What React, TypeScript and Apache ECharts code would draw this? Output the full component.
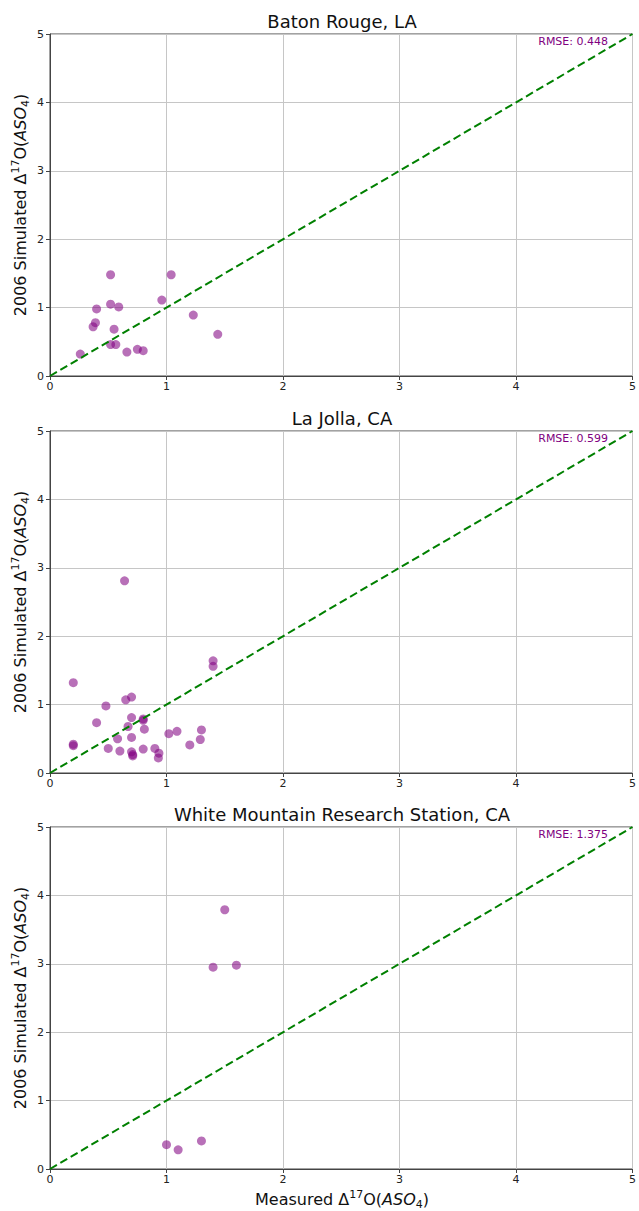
import React, { useEffect, useRef } from "react";
import * as echarts from "echarts";

const titles = ["Baton Rouge, LA", "La Jolla, CA", "White Mountain Research Station, CA"];
const rmseLabels = ["RMSE: 0.448", "RMSE: 0.599", "RMSE: 1.375"];
const tickValues = [0, 1, 2, 3, 4, 5];

const batonRouge: number[][] = [
  [0.26, 0.32], [0.52, 1.48], [1.04, 1.48], [0.52, 1.05], [0.59, 1.01], [0.4, 0.98],
  [0.96, 1.11], [1.23, 0.89], [0.39, 0.78], [0.37, 0.72], [0.55, 0.685], [1.44, 0.61],
  [0.52, 0.46], [0.565, 0.46], [0.66, 0.35], [0.75, 0.39], [0.8, 0.37],
];

const laJolla: number[][] = [
  [0.64, 2.81], [1.4, 1.64], [1.4, 1.56], [0.2, 1.32], [0.7, 1.11], [0.65, 1.07],
  [0.48, 0.98], [0.7, 0.81], [0.8, 0.79], [0.8, 0.77], [0.4, 0.735], [0.67, 0.68],
  [0.81, 0.64], [1.3, 0.63], [1.09, 0.61], [1.02, 0.575], [0.7, 0.52], [0.58, 0.5],
  [1.29, 0.49], [1.2, 0.41], [0.2, 0.42], [0.2, 0.4], [0.5, 0.36], [0.9, 0.36],
  [0.6, 0.32], [0.8, 0.35], [0.7, 0.31], [0.71, 0.27], [0.71, 0.25], [0.935, 0.29],
  [0.93, 0.22],
];

const whiteMountain: number[][] = [
  [1.5, 3.79], [1.4, 2.95], [1.6, 2.98], [1.0, 0.355], [1.1, 0.28], [1.3, 0.41],
];

const oneToOne: number[][] = [[0, 0], [5, 5]];

const panels = [batonRouge, laJolla, whiteMountain];
const gridTops = [34, 431, 827];
const gridH = 342;
const gridLeft = 50;
const gridW = 584;
const FONT = "DejaVu Sans";

export default function App() {
  const ref = useRef<HTMLDivElement>(null);
  useEffect(() => {
    if (!ref.current) return;
    const chart = echarts.init(ref.current, null, { renderer: "svg" });
    const grids = gridTops.map((t) => ({
      left: gridLeft,
      top: t,
      width: gridW,
      height: gridH,
      show: true,
      borderColor: "#444",
      borderWidth: 1,
      backgroundColor: "transparent",
    }));
    const axisCommon = {
      type: "value" as const,
      min: tickValues[0],
      max: tickValues[tickValues.length - 1],
      interval: 1,
      axisLine: { show: true, onZero: false, lineStyle: { color: "#444", width: 1 } },
      axisTick: { show: true, length: 4, lineStyle: { color: "#444" } },
      splitLine: { show: true, lineStyle: { color: "#c6c6c6", width: 1 } },
      axisLabel: { fontFamily: FONT, fontSize: 11, color: "#222", margin: 5 },
    };
    const xAxes = gridTops.map((_, i) => ({ ...axisCommon, gridIndex: i }));
    const yAxes = gridTops.map((_, i) => ({
      ...axisCommon,
      gridIndex: i,
      axisLabel: { ...axisCommon.axisLabel, margin: 6 },
    }));
    const series: any[] = [];
    panels.forEach((d, i) => {
      series.push({
        type: "scatter",
        xAxisIndex: i,
        yAxisIndex: i,
        data: d,
        symbolSize: 9,
        itemStyle: { color: "rgba(128,0,128,0.7)" },
        z: 2,
      });
      series.push({
        type: "line",
        xAxisIndex: i,
        yAxisIndex: i,
        data: oneToOne,
        symbol: "none",
        lineStyle: { color: "#008000", width: 2, type: [8, 4] },
        z: 3,
      });
    });
    const rich = {
      sup: { fontSize: 11, lineHeight: 10, verticalAlign: "top", fontFamily: FONT, fill: "#111" },
      sub: { fontSize: 11, lineHeight: 10, verticalAlign: "bottom", fontFamily: FONT, fill: "#111" },
      it: { fontSize: 16, lineHeight: 21, fontStyle: "italic", fontFamily: FONT, fill: "#111" },
    };
    const graphic: any[] = [];
    gridTops.forEach((t, i) => {
      graphic.push({
        type: "text",
        x: gridLeft + gridW / 2,
        y: t - 13,
        style: {
          text: titles[i],
          fontFamily: FONT,
          fontSize: 18,
          fill: "#111",
          align: "center",
          verticalAlign: "middle",
        },
      });
      graphic.push({
        type: "text",
        x: 608,
        y: t + 7,
        style: {
          text: rmseLabels[i],
          fontFamily: FONT,
          fontSize: 11,
          fill: "#800080",
          align: "right",
          verticalAlign: "middle",
        },
      });
      graphic.push({
        type: "text",
        x: 20,
        y: t + gridH / 2,
        rotation: Math.PI / 2,
        style: {
          text: "2006 Simulated Δ{sup|17}O({it|ASO}{sub|4})",
          rich,
          fontFamily: FONT,
          fontSize: 16,
          lineHeight: 21,
          fill: "#111",
          align: "center",
          verticalAlign: "middle",
        },
      });
    });
    graphic.push({
      type: "text",
      x: gridLeft + gridW / 2,
      y: 1199,
      style: {
        text: "Measured Δ{sup|17}O({it|ASO}{sub|4})",
        rich,
        fontFamily: FONT,
        fontSize: 16,
        lineHeight: 21,
        fill: "#111",
        align: "center",
        verticalAlign: "middle",
      },
    });
    chart.setOption({
      animation: false,
      backgroundColor: "#fff",
      grid: grids,
      xAxis: xAxes,
      yAxis: yAxes,
      series,
      graphic,
    });
    return () => chart.dispose();
  }, []);
  return (
    <div
      ref={ref}
      style={{ position: "fixed", left: 0, top: 0, width: 639, height: 1211 }}
    />
  );
}
